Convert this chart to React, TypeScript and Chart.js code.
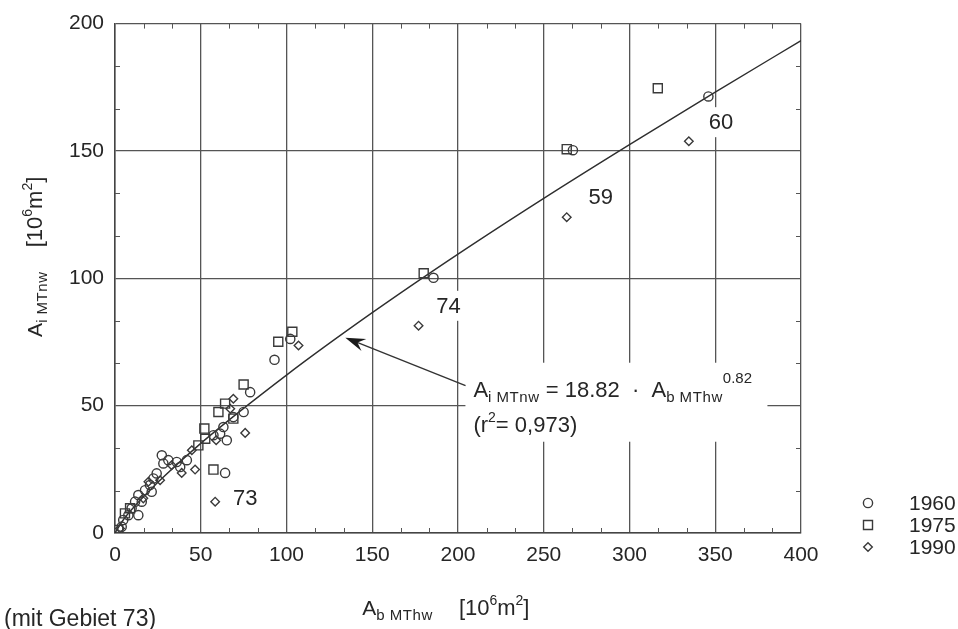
import { useEffect, useRef } from 'react';
import { Chart, registerables } from 'chart.js';

Chart.register(...registerables);

const FONT = '"Liberation Sans", Arial, Helvetica, sans-serif';
const INK = '#262626';
const GRID = '#555555';

// axis ranges / ticks
const xTicks = [0, 50, 100, 150, 200, 250, 300, 350, 400];
const yTicks = [0, 50, 100, 150, 200];

// 1960 (circles)
const x1960 = [346, 267, 185.7, 93, 102.2, 78.8, 75, 63.2, 61.3, 65.2, 64.2, 57.4, 69, 27.3, 31.1, 36, 41.9, 38, 28.2, 24.3, 22.4, 20.4, 17.5, 21.4, 13.6, 15.6, 11.7, 9.7, 13.6, 7.8, 4.8, 3.9];
const y1960 = [171.4, 150.3, 100.2, 68, 76.2, 55.3, 47.5, 41.6, 39, 36.4, 23.6, 38.4, 45.5, 30.5, 28.6, 27.9, 28.6, 25.9, 27.3, 23.4, 21.4, 18.8, 16.8, 16.2, 14.9, 12.3, 12.3, 9.7, 7, 7, 5.1, 2.5];

// 1975 (squares)
const x1975 = [316.5, 263.4, 180, 103.4, 95.2, 75, 64.2, 60.3, 69, 52.1, 52.6, 48.6, 57.4, 5.8, 8.8, 1.9];
const y1975 = [174.6, 150.7, 102, 79, 75.1, 58.3, 50.8, 47.5, 44.9, 41, 37, 34.4, 24.9, 7.7, 9.7, 1.2];

// 1990 (diamonds)
const x1990 = [334.6, 263.4, 177, 107, 69, 67.2, 75.9, 59, 44.8, 33, 46.7, 38.9, 58.4, 26.3, 16.5, 19.5, 2.9];
const y1990 = [153.8, 124, 81.4, 73.6, 52.7, 48.8, 39.3, 36.4, 32.5, 26.6, 24.9, 23.6, 12.3, 20.7, 13.6, 20.1, 1.8];

// regression curve
const fitX = [0, 5, 10, 25, 50, 100, 150, 200, 250, 300, 350, 400];
const fitY = [0, 5.3, 9.4, 19.9, 35.2, 62.0, 86.5, 109.5, 131.4, 152.5, 173.1, 193.3];

// point labels (areas)
const labelText = ['60', '59', '74', '73'];
const labelX = [353.3, 283.2, 194.4, 75.9];
const labelY = [161.3, 131.9, 89.2, 13.6];

// legend
const legendNames = ['1960', '1975', '1990'];
const legendStyles = ['circle', 'rect', 'rectRot'];

// equation anchor & arrow (data coords)
const EQ_AT = [209, 53.5];
const ARROW_FROM = [204.4, 57.9];
const ARROW_TO = [134.3, 76.7];

type Seg = { t: string; size: number; dy?: number; ls?: number; gap?: number };

function drawRich(ctx: CanvasRenderingContext2D, segs: Seg[], x: number, y: number) {
  let cx = x;
  for (const s of segs) {
    ctx.font = `${s.size}px ${FONT}`;
    (ctx as any).letterSpacing = `${s.ls || 0}px`;
    if (s.t) ctx.fillText(s.t, cx, y + (s.dy || 0));
    cx += (s.t ? ctx.measureText(s.t).width : 0) + (s.gap || 0);
  }
  (ctx as any).letterSpacing = '0px';
  return cx - x;
}

function marker(ctx: CanvasRenderingContext2D, style: string, x: number, y: number) {
  ctx.beginPath();
  if (style === 'circle') {
    ctx.arc(x, y, 4.6, 0, Math.PI * 2);
  } else if (style === 'rect') {
    ctx.rect(x - 4.5, y - 4.5, 9, 9);
  } else {
    ctx.moveTo(x, y - 4.3);
    ctx.lineTo(x + 4.3, y);
    ctx.lineTo(x, y + 4.3);
    ctx.lineTo(x - 4.3, y);
    ctx.closePath();
  }
  ctx.stroke();
}

const annotPlugin = {
  id: 'annot',
  beforeDatasetsDraw(chart: any) {
    const { ctx } = chart;
    const xs = chart.scales.x, ys = chart.scales.y;
    const px = (v: number) => xs.getPixelForValue(v);
    const py = (v: number) => ys.getPixelForValue(v);
    ctx.save();

    // equation white box
    const ex = px(EQ_AT[0]);
    const ey = py(EQ_AT[1]);
    ctx.fillStyle = '#ffffff';
    ctx.fillRect(ex - 8, ey - 34, 302, 79);

    // point labels with white backgrounds
    ctx.font = `22px ${FONT}`;
    ctx.textAlign = 'center';
    ctx.textBaseline = 'middle';
    labelText.forEach((t, i) => {
      const lx = px(labelX[i]);
      const ly = py(labelY[i]);
      const w = ctx.measureText(t).width;
      ctx.fillStyle = '#ffffff';
      ctx.fillRect(lx - w / 2 - 4, ly - 15, w + 8, 30);
      ctx.fillStyle = INK;
      ctx.fillText(t, lx, ly + 1);
    });

    // arrow
    const ax0 = px(ARROW_FROM[0]), ay0 = py(ARROW_FROM[1]);
    const ax1 = px(ARROW_TO[0]), ay1 = py(ARROW_TO[1]);
    const ang = Math.atan2(ay1 - ay0, ax1 - ax0);
    ctx.strokeStyle = '#333';
    ctx.lineWidth = 1.4;
    ctx.beginPath();
    ctx.moveTo(ax0, ay0);
    ctx.lineTo(ax1 - 10 * Math.cos(ang), ay1 - 10 * Math.sin(ang));
    ctx.stroke();
    const L = 20, W = 6.5, N = 13;
    const bx = ax1 - L * Math.cos(ang), by = ay1 - L * Math.sin(ang);
    const nx = ax1 - N * Math.cos(ang), ny = ay1 - N * Math.sin(ang);
    ctx.fillStyle = '#1a1a1a';
    ctx.beginPath();
    ctx.moveTo(ax1, ay1);
    ctx.lineTo(bx + W * Math.sin(ang), by - W * Math.cos(ang));
    ctx.lineTo(nx, ny);
    ctx.lineTo(bx - W * Math.sin(ang), by + W * Math.cos(ang));
    ctx.closePath();
    ctx.fill();

    // equation text
    ctx.fillStyle = INK;
    ctx.textAlign = 'left';
    ctx.textBaseline = 'alphabetic';
    drawRich(ctx, [
      { t: 'A', size: 22 },
      { t: 'i', size: 15, dy: 5, gap: 5 },
      { t: 'MTnw', size: 15, dy: 5, ls: 0.6 },
      { t: ' = 18.82', size: 22 },
      { t: '  \u00B7  ', size: 22 },
      { t: 'A', size: 22 },
      { t: 'b', size: 15, dy: 5, gap: 5 },
      { t: 'MThw', size: 15, dy: 5, ls: 0.6 },
      { t: '0.82', size: 15, dy: -14 },
    ], ex, ey);
    drawRich(ctx, [
      { t: '(r', size: 22 },
      { t: '2', size: 14, dy: -10 },
      { t: '= 0,973)', size: 22 },
    ], ex, ey + 35);

    ctx.restore();
  },
  afterDraw(chart: any) {
    const { ctx, chartArea } = chart;
    const xs = chart.scales.x, ys = chart.scales.y;
    ctx.save();

    // minor ticks (inside, thirds of each major interval)
    ctx.strokeStyle = GRID;
    ctx.lineWidth = 1;
    ctx.beginPath();
    for (let i = 0; i < xTicks.length - 1; i++) {
      const step = (xTicks[i + 1] - xTicks[i]) / 3;
      for (let k = 1; k < 3; k++) {
        const xp = Math.round(xs.getPixelForValue(xTicks[i] + k * step)) + 0.5;
        ctx.moveTo(xp, chartArea.bottom);
        ctx.lineTo(xp, chartArea.bottom - 5);
        ctx.moveTo(xp, chartArea.top);
        ctx.lineTo(xp, chartArea.top + 5);
      }
    }
    for (let i = 0; i < yTicks.length - 1; i++) {
      const step = (yTicks[i + 1] - yTicks[i]) / 3;
      for (let k = 1; k < 3; k++) {
        const yp = Math.round(ys.getPixelForValue(yTicks[i] + k * step)) + 0.5;
        ctx.moveTo(chartArea.left, yp);
        ctx.lineTo(chartArea.left + 5, yp);
        ctx.moveTo(chartArea.right, yp);
        ctx.lineTo(chartArea.right - 5, yp);
      }
    }
    ctx.stroke();

    ctx.fillStyle = INK;
    ctx.textAlign = 'left';
    ctx.textBaseline = 'alphabetic';

    // x-axis title
    drawRich(ctx, [
      { t: 'A', size: 21 },
      { t: 'b', size: 15, dy: 5, gap: 5 },
      { t: 'MThw', size: 15, dy: 5, ls: 0.6, gap: 26 },
      { t: '[10', size: 22 },
      { t: '6', size: 14, dy: -10 },
      { t: 'm', size: 22 },
      { t: '2', size: 14, dy: -10 },
      { t: ']', size: 22 },
    ], xs.getPixelForValue(144.2), chartArea.bottom + 82);

    // y-axis title (rotated)
    ctx.save();
    ctx.translate(chartArea.left - 73, ys.getPixelForValue(77));
    ctx.rotate(-Math.PI / 2);
    drawRich(ctx, [
      { t: 'A', size: 21 },
      { t: 'i', size: 15, dy: 5, gap: 5 },
      { t: 'MTnw', size: 15, dy: 5, ls: 0.6, gap: 24 },
      { t: '[10', size: 22 },
      { t: '6', size: 14, dy: -10 },
      { t: 'm', size: 22 },
      { t: '2', size: 14, dy: -10 },
      { t: ']', size: 22 },
    ], 0, 0);
    ctx.restore();

    // footnote
    ctx.font = `23px ${FONT}`;
    ctx.fillText('(mit Gebiet 73)', 4, 626);

    // legend
    ctx.strokeStyle = '#3a3a3a';
    ctx.lineWidth = 1.4;
    const lx = chartArea.right + 67;
    legendNames.forEach((name, i) => {
      const ly = chartArea.bottom - 30 + i * 22;
      marker(ctx, legendStyles[i], lx, ly);
      ctx.font = `21px ${FONT}`;
      ctx.textBaseline = 'middle';
      ctx.fillStyle = INK;
      ctx.fillText(name, lx + 41, ly + 1);
    });

    ctx.restore();
  },
};

export default function App() {
  const ref = useRef<HTMLCanvasElement | null>(null);

  useEffect(() => {
    document.body.style.margin = '0';
    const canvas = ref.current;
    if (!canvas) return;
    const pts = (xs: number[], ys: number[]) => xs.map((x, i) => ({ x, y: ys[i] }));
    const common = {
      borderColor: '#3a3a3a',
      backgroundColor: 'rgba(0,0,0,0)',
      borderWidth: 1.4,
      showLine: false,
    };
    const tickFont = { family: FONT, size: 21 };
    const chart = new Chart(canvas, {
      type: 'scatter',
      data: {
        datasets: [
          { ...common, label: '1960', data: pts(x1960, y1960), pointStyle: 'circle', pointRadius: 4.6 },
          { ...common, label: '1975', data: pts(x1975, y1975), pointStyle: 'rect', pointRadius: 6.4 },
          { ...common, label: '1990', data: pts(x1990, y1990), pointStyle: 'rectRot', pointRadius: 4.3 },
          {
            type: 'line',
            label: 'fit',
            data: pts(fitX, fitY),
            borderColor: '#2e2e2e',
            borderWidth: 1.4,
            pointRadius: 0,
            fill: false,
            showLine: true,
            cubicInterpolationMode: 'monotone',
          } as any,
        ],
      },
      options: {
        animation: false,
        responsive: false,
        maintainAspectRatio: false,
        layout: { padding: { left: 55, right: 157, top: 22, bottom: 56 } },
        plugins: { legend: { display: false }, tooltip: { enabled: false } },
        scales: {
          x: {
            type: 'linear',
            min: xTicks[0],
            max: xTicks[xTicks.length - 1],
            afterFit: (s: any) => { s.height = 40; },
            afterBuildTicks: (s: any) => { s.ticks = xTicks.map((v) => ({ value: v })); },
            ticks: { font: tickFont, color: INK, padding: 10, maxRotation: 0 },
            grid: { color: GRID, lineWidth: 1.3, drawTicks: false },
            border: { color: '#444', width: 1.5 },
          },
          y: {
            type: 'linear',
            min: yTicks[0],
            max: yTicks[yTicks.length - 1],
            afterFit: (s: any) => { s.width = 60; },
            afterBuildTicks: (s: any) => { s.ticks = yTicks.map((v) => ({ value: v })); },
            ticks: { font: tickFont, color: INK, padding: 11 },
            grid: { color: GRID, lineWidth: 1.3, drawTicks: false },
            border: { color: '#444', width: 1.5 },
          },
        },
      } as any,
      plugins: [annotPlugin],
    });
    return () => chart.destroy();
  }, []);

  return (
    <div style={{ position: 'fixed', left: 0, top: 0, width: 958, height: 629, background: '#fff' }}>
      <canvas ref={ref} width={958} height={629} style={{ width: 958, height: 629, display: 'block' }} />
    </div>
  );
}
